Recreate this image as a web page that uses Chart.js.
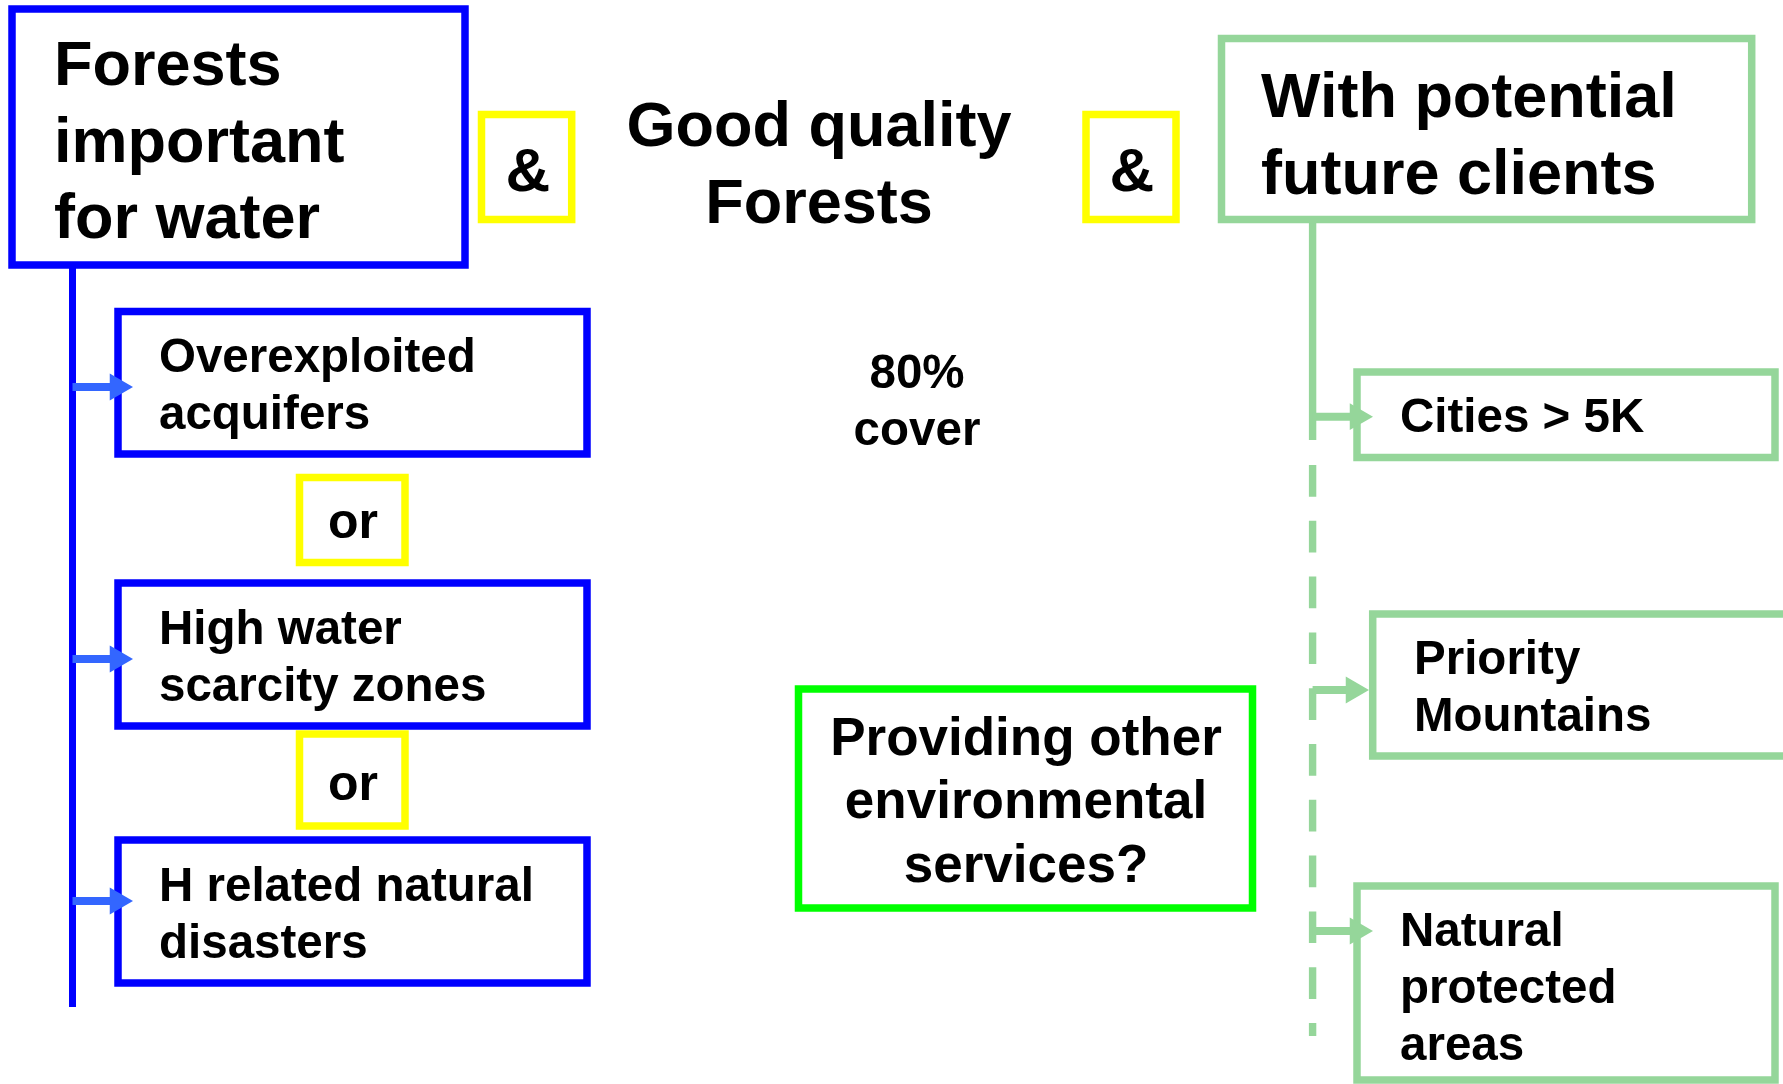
<!DOCTYPE html>
<html>
<head>
<meta charset="utf-8">
<script src="https://cdn.jsdelivr.net/npm/chart.js@4.4.1/dist/chart.umd.min.js"></script>
<style>
  html, body { margin: 0; padding: 0; background: #fff; overflow: hidden; }
  #wrap { width: 1783px; height: 1084px; }
</style>
</head>
<body>
<div id="wrap"><canvas id="diagram" width="1783" height="1084"></canvas></div>
<script>
// Diagram space is 0..1783 across, 0..1084 down

// Boxes (outline centre lines)
const boxKind   = ['blue', 'blue', 'blue', 'blue', 'yellow', 'yellow', 'yellow', 'yellow', 'bright', 'pale', 'pale', 'pale', 'pale'];
const boxLeft   = [12, 118, 118, 118, 481.5, 1086, 299.5, 299.5, 798.5, 1221.5, 1357, 1372.7, 1357];
const boxTop    = [9, 311.5, 583, 840, 114.5, 114.5, 477.5, 734, 689, 38.5, 372, 614, 886];
const boxRight  = [465, 587, 587, 587, 571.7, 1176, 405, 405, 1252.5, 1751.7, 1775, 1800, 1775];
const boxBottom = [265, 454, 726, 983, 219.5, 219.5, 562.5, 826, 908, 219.5, 457.5, 756, 1080];

// Labels
const labelText = [
    ['Forests', 'important', 'for water'],
    ['Overexploited', 'acquifers'],
    ['High water', 'scarcity zones'],
    ['H related natural', 'disasters'],
    ['&'],
    ['&'],
    ['or'],
    ['or'],
    ['Good quality', 'Forests'],
    ['80%', 'cover'],
    ['Providing other', 'environmental', 'services?'],
    ['With potential', 'future clients'],
    ['Cities > 5K'],
    ['Priority', 'Mountains'],
    ['Natural', 'protected', 'areas']
];
const labelX     = [54, 159, 159, 159, 528, 1132, 353, 353, 819, 917, 1026, 1261, 1400, 1414, 1400];
const labelY     = [85, 372, 644, 901, 191, 191, 538, 800, 146, 388, 755, 117, 432, 674, 946];
const labelKind  = ['title', 'item', 'item', 'item', 'amp', 'amp', 'or', 'or', 'title', 'item', 'note', 'title', 'item', 'item', 'item'];
const labelAlign = ['left', 'left', 'left', 'left', 'center', 'center', 'center', 'center', 'center', 'center', 'center', 'left', 'left', 'left', 'left'];

// Connector lines
const linkKind = ['blue', 'pale', 'paleDash'];
const linkX    = [72.5, 1312.6, 1312.6];
const linkY0   = [265, 219.5, 465];
const linkY1   = [1007, 440, 1036];

// Arrows
const arrowKind = ['blue', 'blue', 'blue', 'pale', 'pale', 'pale'];
const arrowY    = [387, 659, 901, 416.7, 690, 931];
const arrowFrom = [72.5, 72.5, 72.5, 1312.6, 1312.6, 1312.6];
const arrowTip  = [133, 133, 133, 1373, 1369, 1373];

// Styles
const strokeColor = { blue: '#0000ff', yellow: '#ffff00', bright: '#00ff00', pale: '#95d69a', paleDash: '#95d69a' };
const arrowColor = { blue: '#3366ff', pale: '#95d69a' };
const fontSize = { title: 63, item: 47.5, amp: 62, or: 50, note: 53 };
const lineGap = { title: 76.5, item: 57, amp: 0, or: 0, note: 63.3 };
const headRadius = 15.5;

const datasets = [];

arrowY.forEach((y, i) => {
    datasets.push({
        data: [{ x: arrowFrom[i], y: y }, { x: arrowTip[i] - headRadius, y: y }],
        showLine: true,
        borderColor: arrowColor[arrowKind[i]],
        borderWidth: 8,
        borderCapStyle: 'butt',
        pointStyle: 'triangle',
        rotation: 90,
        pointRadius: ctx => ctx.dataIndex === 1 ? headRadius : 0,
        pointBackgroundColor: arrowColor[arrowKind[i]],
        pointBorderWidth: 0,
        order: 0
    });
});

boxKind.forEach((kind, i) => {
    const l = boxLeft[i], t = boxTop[i], r = boxRight[i], b = boxBottom[i];
    datasets.push({
        data: [{ x: l, y: t }, { x: r, y: t }, { x: r, y: b }, { x: l, y: b }, { x: l, y: t }, { x: r, y: t }],
        showLine: true,
        borderColor: strokeColor[kind],
        borderWidth: 7.5,
        borderJoinStyle: 'miter',
        pointRadius: 0,
        order: 1
    });
});

linkKind.forEach((kind, i) => {
    datasets.push({
        data: [{ x: linkX[i], y: linkY0[i] }, { x: linkX[i], y: linkY1[i] }],
        showLine: true,
        borderColor: strokeColor[kind],
        borderWidth: kind === 'blue' ? 7 : 7.4,
        borderCapStyle: 'butt',
        borderDash: kind === 'paleDash' ? [31.7, 24.1] : [],
        pointRadius: 0,
        order: 2
    });
});

const labelPlugin = {
    id: 'labels',
    afterDatasetsDraw(chart) {
        const ctx = chart.ctx;
        const xs = chart.scales.x, ys = chart.scales.y;
        ctx.save();
        ctx.fillStyle = '#000';
        ctx.textBaseline = 'alphabetic';
        labelText.forEach((lines, i) => {
            const kind = labelKind[i];
            ctx.font = `bold ${fontSize[kind]}px "Liberation Sans", Arial, sans-serif`;
            ctx.textAlign = labelAlign[i];
            lines.forEach((line, j) => {
                ctx.fillText(line, xs.getPixelForValue(labelX[i]), ys.getPixelForValue(labelY[i] + j * lineGap[kind]));
            });
        });
        ctx.restore();
    }
};

new Chart(document.getElementById('diagram').getContext('2d'), {
    type: 'scatter',
    data: { datasets: datasets },
    options: {
        responsive: false,
        animation: false,
        devicePixelRatio: 1,
        events: [],
        layout: { padding: 0, autoPadding: false },
        elements: { line: { tension: 0, fill: false } },
        plugins: { legend: { display: false }, tooltip: { enabled: false } },
        scales: {
            x: { type: 'linear', min: 0, max: 1783, display: false },
            y: { type: 'linear', min: 0, max: 1084, reverse: true, display: false }
        }
    },
    plugins: [labelPlugin]
});
</script>
</body>
</html>
